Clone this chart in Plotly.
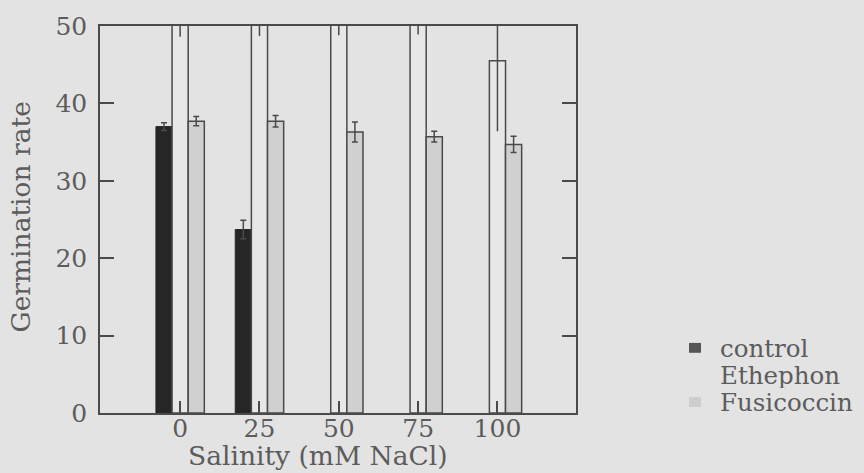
import plotly.graph_objects as go

# Germination rate by salinity for three treatments (mean and error)
salinity_labels = ["0", "25", "50", "75", "100"]

control_rate = [37.0, 23.7, None, None, None]
control_err = [0.5, 1.2, None, None, None]

ethephon_rate = [57.0, 56.5, 56.0, 55.5, 45.5]
ethephon_err = [8.4, 7.8, 7.2, 6.6, 9.1]

fusicoccin_rate = [37.7, 37.7, 36.3, 35.7, 34.7]
fusicoccin_err = [0.6, 0.75, 1.3, 0.7, 1.05]

FONT = "DejaVu Serif"
INK = "#4a4a4a"
TEXT = "#5c5c5c"
BG = "#e3e3e3"

# plot area in pixels (for placing titles/legend relative to the axes box)
L, R, T, B = 100, 576, 21, 413


def px(x):
    return (x - L) / (R - L)


def py(y):
    return (B - y) / (B - T)


fig = go.Figure()

fig.add_trace(go.Bar(
    x=salinity_labels, y=control_rate, name="control",
    marker=dict(color="#262626", line=dict(color="#262626", width=1)),
    error_y=dict(type="data", array=control_err, color=INK, thickness=1.5, width=3),
    showlegend=False,
))
fig.add_trace(go.Bar(
    x=salinity_labels, y=ethephon_rate, name="Ethephon",
    marker=dict(color="#e7e7e7", line=dict(color=INK, width=1.5)),
    error_y=dict(type="data", array=ethephon_err, color=INK, thickness=1.5, width=0),
    showlegend=False,
))
fig.add_trace(go.Bar(
    x=salinity_labels, y=fusicoccin_rate, name="Fusicoccin",
    marker=dict(color="#d0d0d0", line=dict(color=INK, width=1.5)),
    error_y=dict(type="data", array=fusicoccin_err, color=INK, thickness=1.5, width=3),
    showlegend=False,
))

fig.update_layout(
    width=864, height=473,
    margin=dict(l=L, r=864 - R, t=T, b=473 - B),
    paper_bgcolor=BG, plot_bgcolor=BG,
    barmode="group", bargap=0.39, bargroupgap=0,
    font=dict(family=FONT, color=TEXT, size=25),
    showlegend=False,
)

fig.update_xaxes(
    type="category", range=[-1.01, 4.99],
    showline=True, linecolor=INK, linewidth=1.5, mirror=True,
    ticks="inside", ticklen=12, tickwidth=1.5, tickcolor=INK,
    tickfont=dict(family=FONT, size=25, color=TEXT),
    ticklabelstandoff=-8,
    showgrid=False, zeroline=False,
)
fig.update_yaxes(
    range=[0, 50], tickvals=[0, 10, 20, 30, 40, 50],
    showline=True, linecolor=INK, linewidth=1.5, mirror="ticks",
    ticks="inside", ticklen=14, tickwidth=1.5, tickcolor=INK,
    tickfont=dict(family=FONT, size=25, color=TEXT),
    ticklabelstandoff=6,
    showgrid=False, zeroline=False,
)

# axis titles
fig.add_annotation(
    text="Salinity (mM NaCl)", xref="paper", yref="paper",
    x=px(318), y=py(456), xanchor="center", yanchor="middle",
    showarrow=False, font=dict(family=FONT, size=26.5, color=TEXT),
)
fig.add_annotation(
    text="Germination rate", xref="paper", yref="paper",
    x=px(21), y=py(215), xanchor="center", yanchor="middle", textangle=-90,
    showarrow=False, font=dict(family=FONT, size=26.5, color=TEXT),
)

# legend: swatch + label for each treatment
legend_items = [
    ("control", 347, "#555555"),
    ("Ethephon", 375, None),
    ("Fusicoccin", 402, "#cdcdcd"),
]
for label, yc, swatch in legend_items:
    fig.add_annotation(
        text=label, xref="paper", yref="paper",
        x=px(718), y=py(yc), xanchor="left", yanchor="middle",
        height=26, valign="middle",
        showarrow=False, font=dict(family=FONT, size=24.5, color=TEXT),
    )
    if swatch:
        fig.add_shape(
            type="rect", xref="paper", yref="paper",
            x0=px(689), x1=px(701), y0=py(yc - 5), y1=py(yc + 5),
            fillcolor=swatch, line=dict(width=0),
        )

fig.write_html("out.html")
